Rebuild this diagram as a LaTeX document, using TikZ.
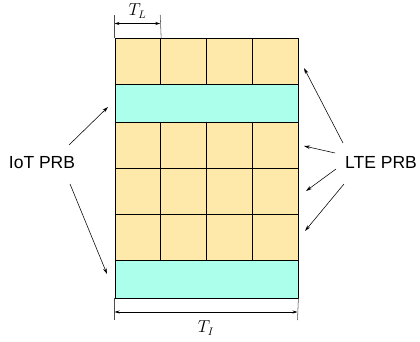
\documentclass[tikz,border=0pt]{standalone}
\usepackage{fontspec}
\newfontfamily\labfont{Liberation Sans}
\usetikzlibrary{arrows.meta}
\definecolor{lteyellow}{RGB}{255,233,170}
\definecolor{iotcyan}{RGB}{172,255,235}
\tikzset{
  cell/.style={draw=black, line width=0.9pt, fill=lteyellow, anchor=north west, inner sep=0pt, minimum width=45.75pt, minimum height=46pt},
  iotrow/.style={draw=black, line width=0.9pt, fill=iotcyan, anchor=north west, inner sep=0pt, minimum width=183pt, minimum height=38pt},
  lab/.style={font=\labfont\fontsize{17.5}{20}\selectfont, inner sep=0pt},
  dimlab/.style={font=\fontsize{16}{18}\selectfont, inner sep=0pt},
  ptr/.style={-{Stealth[length=6pt,width=3.5pt]}, line width=0.55pt},
  dim/.style={{Stealth[length=5pt,width=3pt]}-{Stealth[length=5pt,width=3pt]}, line width=0.55pt},
  tick/.style={line width=0.55pt, draw=black!70}
}
\begin{document}
\begin{tikzpicture}[x=1pt,y=-1pt]
\useasboundingbox (0,0) rectangle (420,342);
% LTE rows
\foreach \r/\y in {1/38,2/122,3/168,4/214}{
  \foreach \c/\x in {1/114.5,2/160.25,3/206,4/251.75}{
    \node[cell] (c\r\c) at (\x,\y) {};
  }
}
% IoT rows
\node[iotrow] (iot1) at (114.5,84) {};
\node[iotrow, minimum height=37.5pt] (iot2) at (114.5,260) {};
% labels
\node[lab] (iotlab) at (42,163) {IoT PRB};
\node[lab] (ltelab) at (381,162) {LTE PRB};
% pointer endpoints
\coordinate (ia1) at (69,145);
\coordinate (ib1) at (108,107);
\coordinate (ia2) at (70,184);
\coordinate (ib2) at (107,274);
\draw[ptr] (ia1) -- (ib1);
\draw[ptr] (ia2) -- (ib2);
\coordinate (la1) at (343,143);
\coordinate (lb1) at (304,68);
\coordinate (la2) at (335,153);
\coordinate (lb2) at (304,146);
\coordinate (la3) at (336,169);
\coordinate (lb3) at (306,191);
\coordinate (la4) at (344,184);
\coordinate (lb4) at (305,231);
\draw[ptr] (la1) -- (lb1);
\draw[ptr] (la2) -- (lb2);
\draw[ptr] (la3) -- (lb3);
\draw[ptr] (la4) -- (lb4);
% T_L dimension
\coordinate (tl1) at (114.5,15);
\coordinate (tl2) at (160.25,15);
\draw[tick] (c11.north west) -- (tl1);
\draw[tick] (c11.north east) -- (tl2);
\coordinate (tla) at (114.5,23.5);
\coordinate (tlb) at (160.25,23.5);
\draw[dim] (tla) -- (tlb);
\node[dimlab] (tllab) at (137.5,11) {$T_L$};
% T_I dimension
\coordinate (ti1) at (114.5,320);
\coordinate (ti2) at (297.5,320);
\draw[tick] (iot2.south west) -- (ti1);
\draw[tick] (iot2.south east) -- (ti2);
\coordinate (tia) at (114.5,312);
\coordinate (tib) at (297.5,312);
\draw[dim] (tia) -- (tib);
\node[dimlab] (tilab) at (206,328) {$T_I$};
\end{tikzpicture}
\end{document}
